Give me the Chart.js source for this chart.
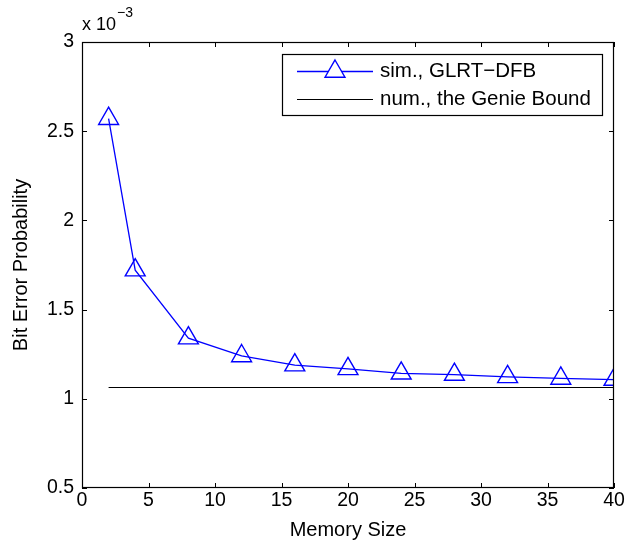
<!DOCTYPE html>
<html><head><meta charset="utf-8">
<script src="https://cdn.jsdelivr.net/npm/chart.js@4/dist/chart.umd.min.js"></script>
<style>html,body{margin:0;padding:0;background:#fff}#wrap{width:639px;height:544px}</style>
</head><body><div id="wrap"><canvas id="c" width="639" height="544"></canvas></div>
<script>
const memorySize = [2, 4, 8, 12, 16, 20, 24, 28, 32, 36, 40];
const simGLRT = [2.570, 1.721, 1.340, 1.240, 1.189, 1.168, 1.143, 1.136, 1.123, 1.114, 1.108];
const genieX = [2, 40];
const genieBound = [1.063, 1.063];
const xTicks = [0, 5, 10, 15, 20, 25, 30, 35, 40];
const yTicks = [0.5, 1, 1.5, 2, 2.5, 3];
const seriesLabels = ['sim., GLRT\u2212DFB', 'num., the Genie Bound'];
const FONT = '"Liberation Sans", Arial, Helvetica, sans-serif';

const boxPlugin = {
  id: 'box',
  afterDatasetsDraw(chart) {
    const {ctx, chartArea: a, scales: {x, y}} = chart;
    ctx.save();
    ctx.strokeStyle = '#000';
    ctx.lineWidth = 1.2;
    ctx.strokeRect(a.left + 0.5, a.top + 0.5, a.right - a.left - 1, a.bottom - a.top - 1);
    const t = 5;
    ctx.lineWidth = 1;
    ctx.beginPath();
    xTicks.forEach(v => {
      const px = Math.round(x.getPixelForValue(v)) + 0.5;
      ctx.moveTo(px, a.bottom); ctx.lineTo(px, a.bottom - t);
      ctx.moveTo(px, a.top); ctx.lineTo(px, a.top + t);
    });
    yTicks.forEach(v => {
      const py = Math.round(y.getPixelForValue(v)) + 0.5;
      ctx.moveTo(a.left, py); ctx.lineTo(a.left + t, py);
      ctx.moveTo(a.right, py); ctx.lineTo(a.right - t, py);
    });
    ctx.stroke();
    // exponent label
    ctx.fillStyle = '#000';
    ctx.textBaseline = 'alphabetic';
    ctx.textAlign = 'left';
    ctx.font = '18px ' + FONT;
    ctx.fillText('x 10', a.left, 30);
    const w = ctx.measureText('x 10').width;
    ctx.font = '14px ' + FONT;
    ctx.fillText('\u22123', a.left + w + 1, 17);
    // legend
    const lx = 282, ly = 54, lw = 320, lh = 61;
    ctx.fillStyle = '#fff';
    ctx.fillRect(lx, ly, lw, lh);
    ctx.strokeStyle = '#000';
    ctx.lineWidth = 1.2;
    ctx.strokeRect(lx + 0.5, ly + 0.5, lw, lh);
    const rows = [71.5, 99.5];
    chart.data.datasets.forEach((ds, i) => {
      const yy = rows[i];
      ctx.strokeStyle = ds.borderColor;
      ctx.lineWidth = ds.borderWidth;
      ctx.beginPath(); ctx.moveTo(lx + 15, yy); ctx.lineTo(lx + 91, yy); ctx.stroke();
      if (ds.pointRadius > 0) {
        ctx.strokeStyle = ds.pointBorderColor;
        ctx.lineWidth = ds.pointBorderWidth;
        Chart.helpers.drawPoint(ctx, {pointStyle: 'triangle', radius: ds.pointRadius, borderWidth: ds.pointBorderWidth, rotation: 0}, lx + 53, yy);
      }
      ctx.fillStyle = '#000';
      ctx.font = '20.5px ' + FONT;
      ctx.textBaseline = 'middle';
      ctx.fillText(seriesLabels[i], lx + 98, yy);
    });
    ctx.restore();
  }
};

new Chart(document.getElementById('c'), {
  type: 'scatter',
  data: {
    datasets: [
      {
        label: seriesLabels[0],
        data: memorySize.map((m, i) => ({x: m, y: simGLRT[i]})),
        showLine: true,
        borderColor: '#0000ff',
        backgroundColor: 'rgba(0,0,0,0)',
        borderWidth: 1.3,
        pointStyle: 'triangle',
        pointRadius: 11.5,
        pointBorderWidth: 1.4,
        pointBorderColor: '#0000ff',
        pointBackgroundColor: 'rgba(0,0,0,0)',
        pointHoverRadius: 11.5
      },
      {
        label: seriesLabels[1],
        data: genieX.map((m, i) => ({x: m, y: genieBound[i]})),
        showLine: true,
        borderColor: '#000000',
        borderWidth: 1.1,
        pointRadius: 0,
        pointHoverRadius: 0
      }
    ]
  },
  options: {
    responsive: false,
    animation: false,
    events: [],
    layout: {padding: {left: 0, top: 42, right: 25, bottom: 0}},
    plugins: {legend: {display: false}, tooltip: {enabled: false}},
    scales: {
      x: {
        type: 'linear', min: 0, max: 40,
        afterBuildTicks: s => { s.ticks = xTicks.map(v => ({value: v})); },
        afterFit: s => { s.height = 56; },
        grid: {display: false, drawTicks: false},
        border: {display: false},
        ticks: {color: '#000', font: {family: FONT, size: 19.5}, padding: 1, maxRotation: 0, callback: v => String(v)},
        title: {display: true, text: 'Memory Size', color: '#000', font: {family: FONT, size: 20}, padding: {top: 0, bottom: 2}}
      },
      y: {
        type: 'linear', min: 0.5, max: 3,
        afterBuildTicks: s => { s.ticks = yTicks.map(v => ({value: v})); },
        afterFit: s => { s.width = 82; },
        grid: {display: false, drawTicks: false},
        border: {display: false},
        ticks: {color: '#000', font: {family: FONT, size: 19.5}, padding: 8, callback: v => String(v)},
        title: {display: true, text: 'Bit Error Probability', color: '#000', font: {family: FONT, size: 20}, padding: {top: 9, bottom: 0}}
      }
    }
  },
  plugins: [boxPlugin]
});
</script>
</body></html>
